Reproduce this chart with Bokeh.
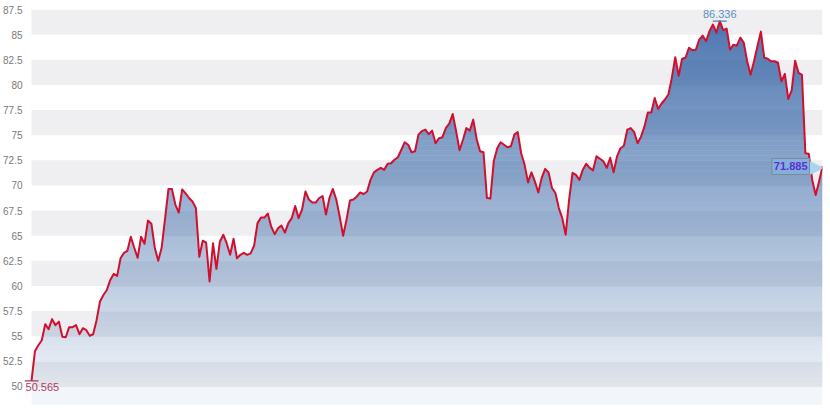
import numpy as np
from bokeh.plotting import figure
from bokeh.models import Range1d, FixedTicker, BoxAnnotation, Label, NumeralTickFormatter
from bokeh.core.properties import value
from bokeh.embed import file_html
from bokeh.resources import INLINE

# ---- data ----
values = [
    50.565, 53.5, 54.1, 54.6, 56.2, 55.7, 56.7, 56.1, 56.45, 54.95,
    54.9, 55.9, 55.9, 56.1, 55.2, 55.8, 55.6, 55.05, 55.2, 56.6,
    58.45, 59.1, 59.6, 60.6, 61.2, 61.0, 62.75, 63.3, 63.5, 64.9,
    63.8, 62.8, 64.9, 64.2, 66.5, 66.2,
    63.8, 62.5, 63.8, 66.7, 69.65, 69.65, 68.1, 67.3, 69.6, 69.2,
    68.75, 68.4, 67.75, 62.9, 64.5, 64.3, 60.45, 64.25, 61.7, 64.4,
    65.1, 64.25, 63.1, 64.7, 62.75, 63.1, 63.3, 63.1, 63.25, 64.0,
    66.25, 66.8, 66.8, 67.2, 65.9, 65.15, 65.75, 66.0, 65.3,
    66.25, 66.75, 67.95, 66.75, 67.6, 69.4, 68.6, 68.3, 68.3, 68.75,
    68.95, 67.1, 68.75, 69.65, 68.6, 66.9, 65.0, 66.6, 68.5, 68.6,
    68.9, 69.3, 69.15, 69.4, 70.55, 71.3, 71.55, 71.75, 71.55, 72.15,
    72.2, 72.55, 72.8, 73.55, 74.3, 74.05, 73.3, 73.4,
    75.05, 75.4, 75.55, 75.1, 75.45, 74.2, 74.7, 74.8, 75.7, 76.15,
    77.1, 75.4, 73.5, 74.55, 75.7, 75.45, 76.55, 74.6, 73.4, 73.3,
    68.75, 68.7, 72.4, 73.7, 74.3, 74.05, 73.8, 73.9, 75.05, 75.3,
    73.2, 72.05, 70.3, 71.3, 70.4, 69.3, 70.75, 71.65, 71.3,
    69.75, 69.25, 67.75, 66.75, 65.1, 68.6, 71.25, 71.05, 70.55, 71.55,
    72.15, 71.75, 71.5, 72.9, 72.65, 72.4, 71.75, 72.75, 71.3, 72.9,
    73.7, 73.95, 75.55, 75.7, 75.3, 74.2, 74.85, 75.85, 77.25, 77.25,
    78.7, 77.6, 78.15, 78.55, 79.05, 80.7, 82.75, 80.9, 82.6, 82.7,
    83.7, 83.45, 83.5, 84.5, 84.9, 84.35, 85.35, 86.0, 85.2, 86.336,
    85.45, 85.6, 83.5, 84.0, 83.9, 84.7, 84.2, 82.35, 81.0, 82.35,
    83.85, 85.3, 82.7, 82.6, 82.35, 82.35, 82.2, 80.35, 81.1, 78.6,
    79.45, 82.4, 81.2, 81.0, 73.2, 73.15, 70.55, 69.05, 70.4, 71.885,
]
y_ticks = [50.0, 52.5, 55.0, 57.5, 60.0, 62.5, 65.0, 67.5, 70.0, 72.5,
           75.0, 77.5, 80.0, 82.5, 85.0, 87.5]

v = np.array(values, dtype=float)
n = len(v)
x = np.arange(n, dtype=float)

Y0, Y1 = 48.11, 87.5
X0 = -2.05   # a little room left of the first point for the min label

p = figure(frame_width=798, frame_height=396,
           x_range=Range1d(X0, n - 1), y_range=Range1d(Y0, Y1),
           output_backend="svg", toolbar_location=None,
           min_border_left=18, min_border_right=4, min_border_top=9, min_border_bottom=0,
           background_fill_color="white", border_fill_color="white",
           outline_line_color=None)
p.grid.grid_line_color = None

ax = p.yaxis[0]
ax.ticker = FixedTicker(ticks=y_ticks)
ax.formatter = NumeralTickFormatter(format="0.[0]")
ax.axis_line_color = None
ax.major_tick_line_color = None
ax.minor_tick_line_color = None
ax.major_tick_out = 0
ax.major_label_standoff = 2
ax.major_label_text_font = "Liberation Sans"
ax.major_label_text_font_size = "10px"
ax.major_label_text_color = "#7a7a7a"

xa_ = p.xaxis[0]
xa_.ticker = FixedTicker(ticks=[])
xa_.major_label_text_font_size = "0px"
xa_.major_label_standoff = 0
xa_.major_tick_out = 0
xa_.major_tick_in = 0
xa_.major_tick_line_color = None
xa_.minor_tick_line_color = None
xa_.axis_line_color = "#cfcfcf"
xa_.axis_line_width = 1

# alternating bands (only across the data span)
bands = [(y_ticks[i], y_ticks[i + 1]) for i in range(0, len(y_ticks) - 1, 2)]
BAND = np.array([239, 239, 241])
for b0, b1 in bands:
    p.add_layout(BoxAnnotation(left=0, right=n - 1, bottom=b0, top=b1,
                               fill_color="#efeff1", fill_alpha=1.0,
                               line_color=None, level="underlay"))

# gradient fill under the line, drawn as thin horizontal strips clipped to the series
levels = np.arange(48.0, 87.5 + 1e-9, 0.5)
xs = [x]
for L in levels:
    a, b = v[:-1], v[1:]
    cr = (a - L) * (b - L) < 0
    t = (L - a[cr]) / (b[cr] - a[cr])
    xs.append(x[:-1][cr] + t)
xa = np.unique(np.concatenate(xs))
fa = np.interp(xa, x, v)

BASE = np.array([40, 90, 160])
def alpha(val):
    r = max(0.0, (val - 50.0) / 35.0)
    return float(np.clip(0.06 + 0.73 * r ** 0.9, 0.03, 0.92))

eps = 0.05
for lo, hi in zip(levels[:-1], levels[1:]):
    if lo >= v.max():
        break
    mid = 0.5 * (lo + hi)
    grey = any(b0 <= mid < b1 for b0, b1 in bands)
    bg = BAND if grey else np.array([255, 255, 255])
    a_ = alpha(mid)
    c = (bg * (1 - a_) + BASE * a_).round().astype(int)
    col = "#%02x%02x%02x" % tuple(c)
    y1 = np.clip(fa, lo, hi)
    y2 = np.where(fa > lo, lo - eps, y1)
    p.varea(x=xa, y1=y1, y2=y2, fill_color=col, fill_alpha=1.0)

# series line
p.line(x, v, line_color="#d0102e", line_width=2, line_join="round")

# min annotation
imin = int(np.argmin(v))
p.scatter([imin], [v[imin]], marker="dash", size=14, line_color="#b03a5b", line_width=1.2)
p.add_layout(Label(x=imin, y=v[imin], text=f"{v[imin]:.3f}", x_offset=-6, y_offset=-2,
                   text_align="left", text_baseline="top", text_color="#b03a5b",
                   text_font="Liberation Sans", text_font_size="11px"))

# max annotation
imax = int(np.argmax(v))
p.scatter([imax], [v[imax]], marker="dash", size=14, line_color="#4a7db5", line_width=1.2)
p.add_layout(Label(x=imax, y=v[imax], text=f"{v[imax]:.3f}", y_offset=3,
                   text_align="center", text_baseline="bottom", text_color="#5b8fc7",
                   text_font="Liberation Sans", text_font_size="11px"))

# last value callout
ilast = n - 1
p.text(x=[ilast], y=[v[ilast]], text=["\u25B6"], x_offset=1,
       text_align="right", text_baseline="middle", text_color="#a9d3f0",
       text_font=value("DejaVu Sans"), text_font_size="19px")
p.text(x=[ilast], y=[v[ilast]], text=[f"{v[ilast]:.3f}"], x_offset=-13,
       anchor="center_right", text_align="right", text_baseline="middle",
       text_color="#5a30d0", text_font=value("Liberation Sans"), text_font_size="11px",
       text_font_style="bold",
       background_fill_color="#84b0dc", background_fill_alpha=0.95,
       border_line_color="#7d8a98", border_line_width=1,
       padding=dict(left=2, right=2, top=4, bottom=4))

open("out.html", "w").write(file_html(p, INLINE))
